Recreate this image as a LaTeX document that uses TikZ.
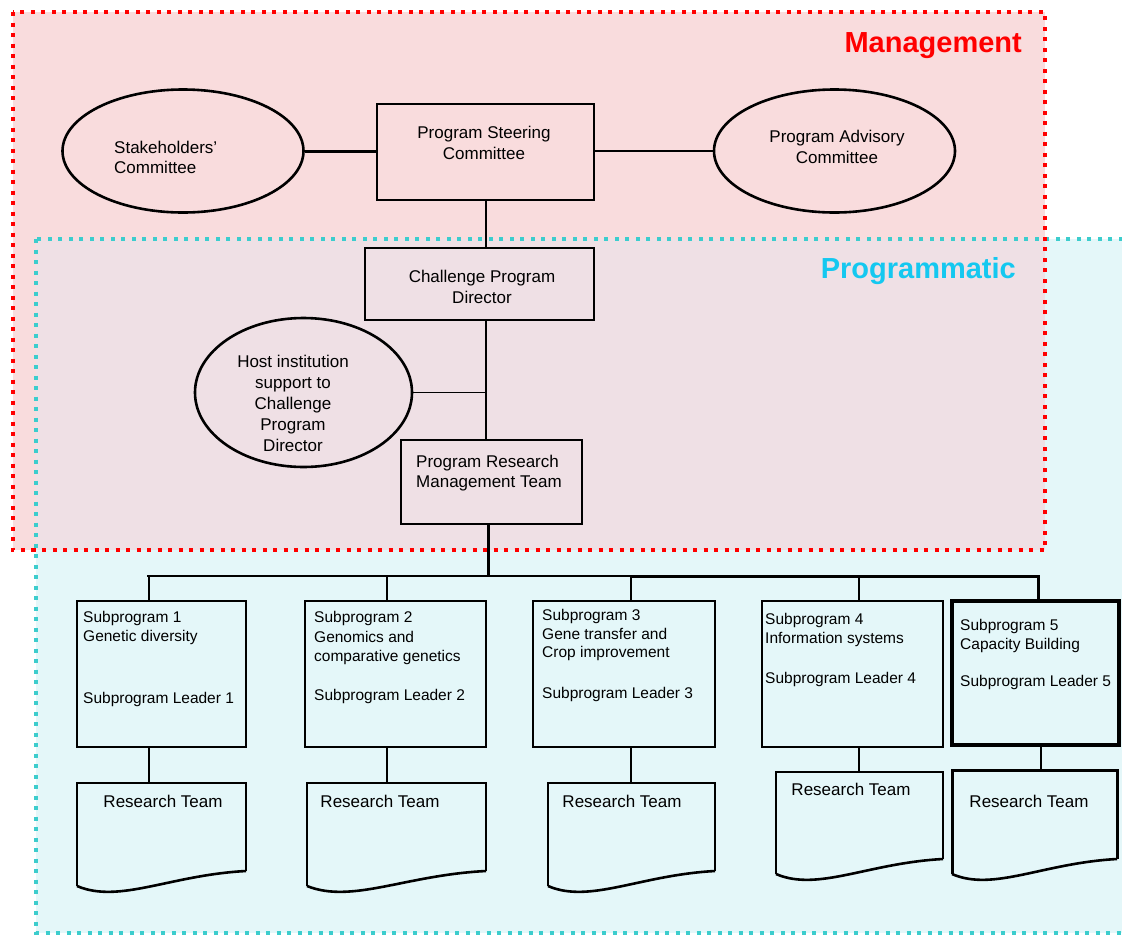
\documentclass[tikz,border=0pt]{standalone}
\usepackage{fontspec}
\setmainfont{Liberation Sans}
\usetikzlibrary{shapes.geometric}
\definecolor{mgmtred}{RGB}{255,0,0}
\definecolor{progcyan}{RGB}{20,200,240}
\definecolor{cyanborder}{RGB}{60,205,205}
\definecolor{pinkfill}{RGB}{249,220,221}
\definecolor{cyanfill}{RGB}{228,247,249}
\definecolor{overlapfill}{RGB}{239,224,229}
\newcommand\rteamshape[7]{%
  \draw[line width=#7, line join=miter] (#2,#6) -- (#2,#4) -- (#3,#4) -- (#3,#5);
  \draw[line width=2.6pt, line join=round] (#3,#5) .. controls ({#2+0.55*(#3-#2)},#5+4) and ({#2+0.25*(#3-#2)},#6+18) .. (#2,#6);
  \coordinate (#1) at ({(#2+#3)/2},#4);
}
\begin{document}
\begin{tikzpicture}[x=1pt,y=-1pt,
  thinline/.style={line width=1.5pt},
  thickline/.style={line width=3pt},
  boxnode/.style={draw, rectangle, line width=1.5pt, inner sep=0pt},
  ellnode/.style={draw, ellipse, line width=2.6pt, inner sep=0pt},
  maintext/.style={font=\fontsize{17}{20.5}\selectfont, align=center, inner sep=0pt},
  sptext/.style={font=\fontsize{15.5}{18.5}\selectfont, align=left, inner sep=0pt, anchor=west},
  rttext/.style={font=\fontsize{17}{20}\selectfont, inner sep=0pt},
  regiontitle/.style={font=\fontsize{29}{32}\selectfont\bfseries, inner sep=0pt, anchor=base east}]
\clip (0,0) rectangle (1122,935);
\fill[white] (0,0) rectangle (1122,935);
% regions
\fill[cyanfill] (36,239) rectangle (1140,933);
\fill[pinkfill] (13,12) rectangle (1045,550);
\fill[overlapfill] (36,239) rectangle (1045,550);
\draw[cyanborder, line width=4pt, dash pattern=on 4pt off 6.5pt] (36,239) rectangle (1140,933);
\draw[mgmtred, line width=4pt, dash pattern=on 4pt off 6.5pt] (13,12) rectangle (1045,550);
\node[regiontitle, text=mgmtred] (mgmt) at (1022,52) {Management};
\node[regiontitle, text=progcyan] (prog) at (1016,278) {Programmatic};

% management nodes
\node[boxnode, minimum width=217pt, minimum height=96pt] (psc) at (485.5,152) {};
\node[maintext] (psct) at (484,143) {Program Steering\\Committee};
\node[ellnode, minimum width=241pt, minimum height=123pt] (stake) at (183,151) {};
\node[maintext, align=left, anchor=west] (staket) at (114,157.5) {Stakeholders'\\Committee};
\node[ellnode, minimum width=241pt, minimum height=123pt] (pac) at (834.5,151) {};
\node[maintext] (pact) at (837,147) {Program Advisory\\Committee};
\draw[thickline] (stake.east) -- (stake.east -| psc.west);
\draw[thinline] (pac.west -| psc.east) -- (pac.west);

\coordinate (spine) at (486,0);
\node[boxnode, minimum width=229pt, minimum height=72pt] (cpd) at (479.5,284) {};
\node[maintext] (cpdt) at (482,287) {Challenge Program\\Director};
\node[ellnode, minimum width=217pt, minimum height=149pt] (host) at (303.5,392.5) {};
\node[maintext, font=\fontsize{17}{21}\selectfont] (hostt) at (293,403) {Host institution\\support to\\Challenge\\Program\\Director};
\node[boxnode, minimum width=181pt, minimum height=84pt] (prmt) at (491.5,482) {};
\node[maintext, align=left, anchor=west] (prmtt) at (416,473) {Program Research\\Management Team};

\draw[thinline] (psc.south -| spine) -- (cpd.north -| spine);
\draw[thinline] (cpd.south -| spine) -- (prmt.north -| spine);
\draw[thinline] (host.east) -- (host.east -| spine);

% bus
\coordinate (busC) at (488,576);
\coordinate (busL) at (147,576);
\coordinate (busM) at (631,576);
\coordinate (busR) at (1038,576);
\draw[thickline] (prmt.south -| busC) -- (busC);
\draw[thinline] (busL) -- (busM);
\draw[thickline, line join=miter] (busM) -- (busR) -- (busR |- 0,600);

% subprogram boxes
\node[boxnode, minimum width=169pt, minimum height=146pt] (sp1) at (161.5,674) {};
\node[boxnode, minimum width=181pt, minimum height=146pt] (sp2) at (395.5,674) {};
\node[boxnode, minimum width=182pt, minimum height=146pt] (sp3) at (624,674) {};
\node[boxnode, minimum width=181pt, minimum height=146pt] (sp4) at (852.5,674) {};
\node[boxnode, line width=3.5pt, minimum width=167pt, minimum height=144pt] (sp5) at (1035.5,673) {};

\node[sptext] (sp1a) at (83,628) {Subprogram 1\\Genetic diversity};
\node[sptext] (sp1b) at (83,699) {Subprogram Leader 1};
\node[sptext, font=\fontsize{15.5}{19.5}\selectfont] (sp2a) at (314,638) {Subprogram 2\\Genomics and\\comparative genetics};
\node[sptext] (sp2b) at (314,696) {Subprogram Leader 2};
\node[sptext] (sp3a) at (542,635) {Subprogram 3\\Gene transfer and\\Crop improvement};
\node[sptext] (sp3b) at (542,694) {Subprogram Leader 3};
\node[sptext] (sp4a) at (765,630) {Subprogram 4\\Information systems};
\node[sptext] (sp4b) at (765,679) {Subprogram Leader 4};
\node[sptext] (sp5a) at (960,636) {Subprogram 5\\Capacity Building};
\node[sptext] (sp5b) at (960,682) {Subprogram Leader 5};

% drops from bus
\coordinate (d1) at (149,576);
\coordinate (d2) at (387,576);
\coordinate (d3) at (631,576);
\coordinate (d4) at (859,576);
\draw[thinline] (d1) -- (d1 |- sp1.north);
\draw[thinline] (d2) -- (d2 |- sp2.north);
\draw[thinline] (d3) -- (d3 |- sp3.north);
\draw[thinline] (d4) -- (d4 |- sp4.north);

% research teams
\rteamshape{rt1}{77}{246}{783}{871}{886}{1.5pt}
\rteamshape{rt2}{307}{486}{783}{871}{886}{1.5pt}
\rteamshape{rt3}{548}{715}{783}{871}{886}{1.5pt}
\rteamshape{rt4}{776}{943}{772}{859}{874}{1.8pt}
\rteamshape{rt5}{952}{1117}{770}{859}{874}{3pt}
\draw[line width=2.5pt] (307,783) -- (307,886);
\draw[line width=2.5pt] (548,783) -- (548,886);

\draw[thinline] (sp1.south -| d1) -- (rt1 -| d1);
\draw[thinline] (sp2.south -| d2) -- (rt2 -| d2);
\draw[thinline] (sp3.south -| d3) -- (rt3 -| d3);
\draw[thinline] (sp4.south -| d4) -- (rt4 -| d4);
\coordinate (d5) at (1041,0);
\draw[thinline] (sp5.south -| d5) -- (rt5 -| d5);

\node[rttext] (rt1t) at (163,801) {Research Team};
\node[rttext] (rt2t) at (380,801) {Research Team};
\node[rttext] (rt3t) at (622,801) {Research Team};
\node[rttext] (rt4t) at (851,789) {Research Team};
\node[rttext] (rt5t) at (1029,801) {Research Team};
\end{tikzpicture}
\end{document}
